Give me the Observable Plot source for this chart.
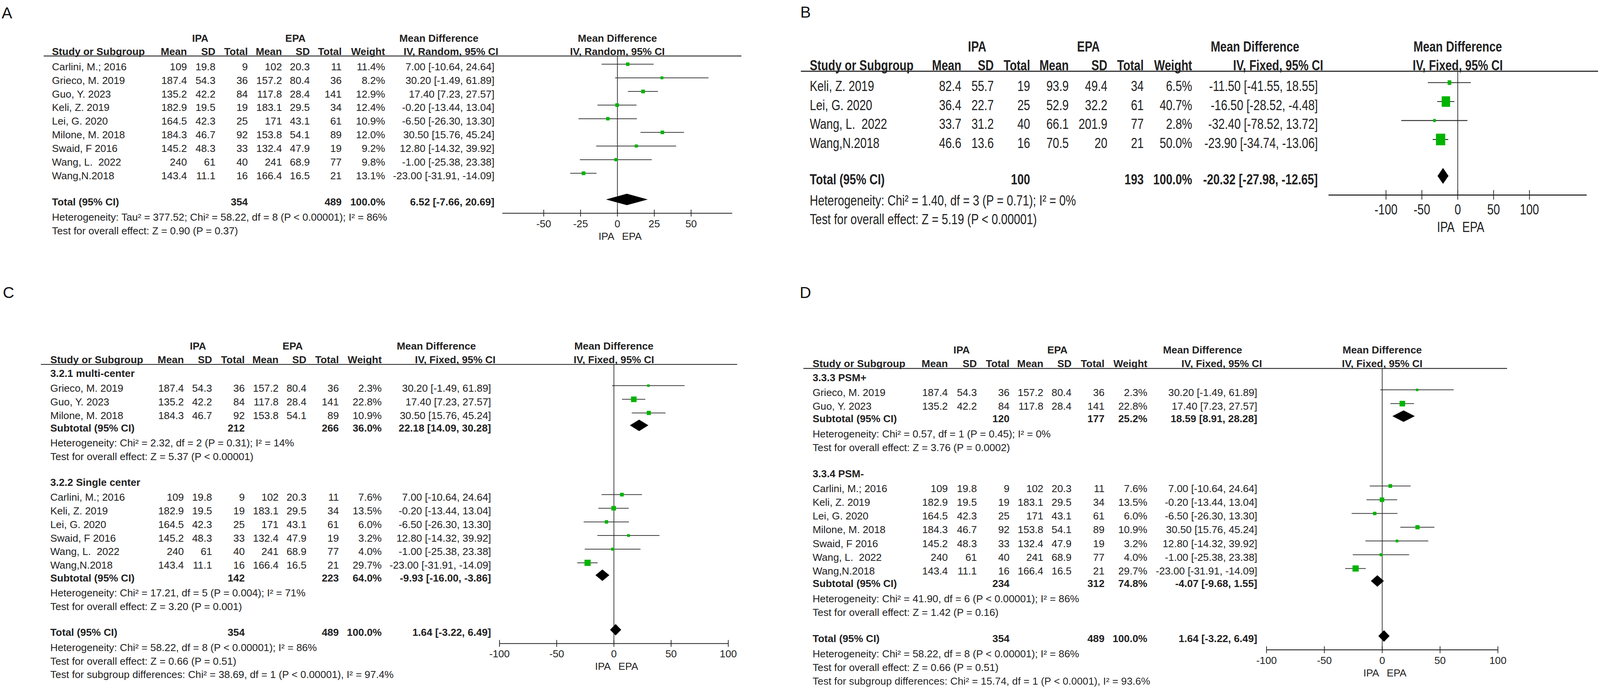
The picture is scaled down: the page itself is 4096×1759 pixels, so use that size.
<!DOCTYPE html>
<html><head><meta charset="utf-8">
<script src="https://cdn.jsdelivr.net/npm/d3@7"></script>
<script src="https://cdn.jsdelivr.net/npm/@observablehq/plot@0.6"></script>
<style>
html,body{margin:0;padding:0;background:#fff;overflow:hidden;}
#page{position:absolute;left:0;top:0;width:5678px;height:2438px;transform:scale(0.7214);transform-origin:0 0;background:#fff;}
.panel{position:absolute;}
.letter{position:absolute;font-family:'Liberation Sans',Arial,sans-serif;font-size:56px;line-height:56px;color:#111;}
</style></head>
<body><div id="page"></div>
<script>
// ---------- data (panels A, C, D share the same nine studies) ----------
const studyNames = ["Carlini, M.; 2016","Grieco, M. 2019","Guo, Y. 2023","Keli, Z. 2019","Lei, G. 2020","Milone, M. 2018","Swaid, F 2016","Wang, L.  2022","Wang,N.2018"];
const ipaMean  = [109,187.4,135.2,182.9,164.5,184.3,145.2,240,143.4];
const ipaSD    = [19.8,54.3,42.2,19.5,42.3,46.7,48.3,61,11.1];
const ipaTotal = [9,36,84,19,25,92,33,40,16];
const epaMean  = [102,157.2,117.8,183.1,171,153.8,132.4,241,166.4];
const epaSD    = [20.3,80.4,28.4,29.5,43.1,54.1,47.9,68.9,16.5];
const epaTotal = [11,36,141,34,61,89,19,77,21];
const meanDiff = [7.00,30.20,17.40,-0.20,-6.50,30.50,12.80,-1.00,-23.00];
const ciLow    = [-10.64,-1.49,7.23,-13.44,-26.30,15.76,-14.32,-25.38,-31.91];
const ciHigh   = [24.64,61.89,27.57,13.04,13.30,45.24,39.92,23.38,-14.09];
const weightRandom = [11.4,8.2,12.9,12.4,10.9,12.0,9.2,9.8,13.1];
const weightFixed  = [7.6,2.3,22.8,13.5,6.0,10.9,3.2,4.0,29.7];

// panel B (separate outcome)
const bNames    = ["Keli, Z. 2019","Lei, G. 2020","Wang, L.  2022","Wang,N.2018"];
const bIpaMean  = [82.4,36.4,33.7,46.6];
const bIpaSD    = [55.7,22.7,31.2,13.6];
const bIpaTotal = [19,25,40,16];
const bEpaMean  = [93.9,52.9,66.1,70.5];
const bEpaSD    = [49.4,32.2,201.9,20];
const bEpaTotal = [34,61,77,21];
const bWeight   = [6.5,40.7,2.8,50.0];
const bMeanDiff = [-11.50,-16.50,-32.40,-23.90];
const bLow      = [-41.55,-28.52,-78.52,-34.74];
const bHigh     = [18.55,-4.48,13.72,-13.06];

// pooled estimates
const pooledA  = {n1:354, n2:489, w:100.0, md:6.52,  lo:-7.66,  hi:20.69};
const pooledB  = {n1:100, n2:193, w:100.0, md:-20.32, lo:-27.98, hi:-12.65};
const pooledAll= {n1:354, n2:489, w:100.0, md:1.64,  lo:-3.22,  hi:6.49};
const pooledC1 = {n1:212, n2:266, w:36.0,  md:22.18, lo:14.09,  hi:30.28};
const pooledC2 = {n1:142, n2:223, w:64.0,  md:-9.93, lo:-16.00, hi:-3.86};
const pooledD1 = {n1:120, n2:177, w:25.2,  md:18.59, lo:8.91,   hi:28.28};
const pooledD2 = {n1:234, n2:312, w:74.8,  md:-4.07, lo:-9.68,  hi:1.55};

const groupC1 = [1,2,5], groupC2 = [0,3,4,6,7,8];
const groupD1 = [1,2],   groupD2 = [0,3,4,5,6,7,8];

const linesA = ["Heterogeneity: Tau² = 377.52; Chi² = 58.22, df = 8 (P < 0.00001); I² = 86%","Test for overall effect: Z = 0.90 (P = 0.37)"];
const linesB = ["Heterogeneity: Chi² = 1.40, df = 3 (P = 0.71); I² = 0%","Test for overall effect: Z = 5.19 (P < 0.00001)"];
const linesC1 = ["Heterogeneity: Chi² = 2.32, df = 2 (P = 0.31); I² = 14%","Test for overall effect: Z = 5.37 (P < 0.00001)"];
const linesC2 = ["Heterogeneity: Chi² = 17.21, df = 5 (P = 0.004); I² = 71%","Test for overall effect: Z = 3.20 (P = 0.001)"];
const linesCT = ["Heterogeneity: Chi² = 58.22, df = 8 (P < 0.00001); I² = 86%","Test for overall effect: Z = 0.66 (P = 0.51)","Test for subgroup differences: Chi² = 38.69, df = 1 (P < 0.00001), I² = 97.4%"];
const linesD1 = ["Heterogeneity: Chi² = 0.57, df = 1 (P = 0.45); I² = 0%","Test for overall effect: Z = 3.76 (P = 0.0002)"];
const linesD2 = ["Heterogeneity: Chi² = 41.90, df = 6 (P < 0.00001); I² = 86%","Test for overall effect: Z = 1.42 (P = 0.16)"];
const linesDT = ["Heterogeneity: Chi² = 58.22, df = 8 (P < 0.00001); I² = 86%","Test for overall effect: Z = 0.66 (P = 0.51)","Test for subgroup differences: Chi² = 15.74, df = 1 (P < 0.0001), I² = 93.6%"];

const ticksA = [-50,-25,0,25,50];
const ticksBCD = [-100,-50,0,50,100];

// ---------- helpers ----------
const FONT = "'Liberation Sans', Arial, Helvetica, sans-serif";
const INK = "#222";
const GREEN = "#00b400";
const fmtCI = (md, lo, hi) => `${md.toFixed(2)} [${lo.toFixed(2)}, ${hi.toFixed(2)}]`;
const fmtW = w => w.toFixed(1) + "%";

const mainStudies = (idx, weights) => idx.map(k => ({name: studyNames[k], m1: ipaMean[k], s1: ipaSD[k], n1: ipaTotal[k], m2: epaMean[k], s2: epaSD[k], n2: epaTotal[k], md: meanDiff[k], lo: ciLow[k], hi: ciHigh[k], w: weights[k]}));
const bStudies = bNames.map((n, k) => ({name: n, m1: bIpaMean[k], s1: bIpaSD[k], n1: bIpaTotal[k], m2: bEpaMean[k], s2: bEpaSD[k], n2: bEpaTotal[k], md: bMeanDiff[k], lo: bLow[k], hi: bHigh[k], w: bWeight[k]}));
const all9 = d3.range(9);

function makePanel(cfg) {
  const T = [], S = [], P = [];
  const sub = cfg.groups.some(g => g.title);
  let headerSlot, colSlot, groupSlot, s;
  const addStudy = (st, slot) => {
    T.push({slot, col: "study", text: st.name, bold: false});
    for (const k of ["m1","s1","n1","m2","s2","n2"]) T.push({slot, col: k, text: String(st[k]), bold: false});
    T.push({slot, col: "w", text: fmtW(st.w), bold: false});
    T.push({slot, col: "ci", text: fmtCI(st.md, st.lo, st.hi), bold: false});
    S.push({slot: slot - 0.2, md: st.md, lo: st.lo, hi: st.hi, w: st.w});
  };
  const addPooled = (p, slot, label) => {
    T.push({slot, col: "study", text: label, bold: true});
    T.push({slot, col: "n1", text: String(p.n1), bold: true});
    T.push({slot, col: "n2", text: String(p.n2), bold: true});
    T.push({slot, col: "w", text: fmtW(p.w), bold: true});
    T.push({slot, col: "ci", text: fmtCI(p.md, p.lo, p.hi), bold: true});
    const c = slot - 0.2, h = 0.42, g = label + slot;
    P.push({g, x: p.lo, y1: c, y2: c}, {g, x: p.md, y1: c - h, y2: c + h}, {g, x: p.hi, y1: c, y2: c});
  };
  if (sub) {
    const first = -1.07;
    headerSlot = first - 0.69; colSlot = first - 1.02; groupSlot = first - 2.01;
    s = first;
    cfg.groups.forEach((g, gi) => {
      if (gi > 0) s += 1.9;
      T.push({slot: s, col: "study", text: g.title, bold: true});
      const r0 = s + 1.07;
      g.studies.forEach((st, j) => addStudy(st, r0 + j));
      const subSlot = r0 + g.studies.length - 1 + 0.92;
      addPooled(g.pooled, subSlot, "Subtotal (95% CI)");
      g.lines.forEach((line, i) => T.push({slot: subSlot + 1.1 + i, col: "study", text: line, bold: false}));
      s = subSlot + 1.1 + g.lines.length - 1;
    });
    s += 1.9;
  } else {
    headerSlot = -0.8; colSlot = -1.1; groupSlot = -2.07;
    const g = cfg.groups[0];
    g.studies.forEach((st, j) => addStudy(st, j));
    s = g.studies.length - 1 + 1.93;
  }
  const totalSlot = s;
  addPooled(cfg.total, totalSlot, "Total (95% CI)");
  cfg.totalLines.forEach((line, i) => T.push({slot: totalSlot + 1.1 + i, col: "study", text: line, bold: false}));
  const axisSlot = totalSlot + 0.8;

  T.push({slot: groupSlot, col: "g1", text: "IPA", bold: true});
  T.push({slot: groupSlot, col: "g2", text: "EPA", bold: true});
  T.push({slot: groupSlot, col: "gMD", text: "Mean Difference", bold: true});
  const heads = {study: "Study or Subgroup", m1: "Mean", s1: "SD", n1: "Total", m2: "Mean", s2: "SD", n2: "Total", w: "Weight", ciHead: cfg.method};
  for (const [k, v] of Object.entries(heads)) T.push({slot: colSlot, col: k, text: v, bold: true});

  const fs = cfg.fs;
  const marks = [];
  marks.push(Plot.ruleY([headerSlot], {y: d => d, insetLeft: cfg.lineL, insetRight: cfg.lineR, stroke: INK, strokeWidth: 3}));
  marks.push(Plot.ruleX([0], {x: d => d, y1: headerSlot, y2: axisSlot, stroke: INK, strokeWidth: 2.4}));
  marks.push(Plot.ruleY([axisSlot], {y: d => d, x1: cfg.axis[0], x2: cfg.axis[1], stroke: INK, strokeWidth: 3}));
  marks.push(Plot.ruleX(cfg.ticks, {x: d => d, y1: axisSlot - 0.25, y2: axisSlot + 0.25, stroke: INK, strokeWidth: 2.6}));
  marks.push(Plot.ruleY(S, {y: "slot", x1: "lo", x2: "hi", stroke: INK, strokeWidth: 2.4}));
  marks.push(Plot.dot(S, {x: "md", y: "slot", r: "w", symbol: "square", fill: GREEN}));
  marks.push(Plot.areaY(P, {x: "x", y1: "y1", y2: "y2", z: "g", fill: "#000", curve: "linear"}));

  for (const [key, [dx, anchor]] of Object.entries(cfg.cols)) {
    for (const bold of [false, true]) {
      const data = T.filter(t => t.col === key && t.bold === bold);
      if (!data.length) continue;
      marks.push(Plot.text(data, {y: "slot", text: "text", frameAnchor: "left", dx, textAnchor: anchor, fontWeight: bold ? "bold" : "normal", fill: INK, fontSize: fs}));
    }
  }
  marks.push(Plot.text([{slot: groupSlot, t: "Mean Difference"}, {slot: colSlot, t: cfg.method}], {x: () => 0, y: "slot", text: "t", fontWeight: "bold", fill: INK, fontSize: fs}));
  marks.push(Plot.text(cfg.ticks, {x: d => d, y: () => axisSlot + 0.78, text: d => String(d), fill: INK, fontSize: fs}));
  marks.push(Plot.text(["IPA"], {x: () => 0, y: () => axisSlot + 1.7, text: d => d, textAnchor: "end", dx: -11, fill: INK, fontSize: fs}));
  marks.push(Plot.text(["EPA"], {x: () => 0, y: () => axisSlot + 1.7, text: d => d, textAnchor: "start", dx: 16, fill: INK, fontSize: fs}));

  const svg = Plot.plot({
    width: cfg.width, height: cfg.height,
    marginTop: 0, marginBottom: 0, marginLeft: 0, marginRight: 0,
    style: {fontFamily: FONT, fontSize: fs + "px", background: "white", overflow: "visible"},
    x: {type: "linear", domain: cfg.axis, range: [cfg.zero + cfg.axis[0] * cfg.ppu, cfg.zero + cfg.axis[1] * cfg.ppu], axis: null},
    y: {type: "linear", domain: [0, 1], range: [cfg.y0, cfg.y0 + cfg.step], axis: null},
    r: {type: "sqrt", domain: [0, 100], range: cfg.r},
    marks
  });
  svg.style.fontFamily = FONT;
  svg.style.whiteSpace = "pre";
  svg.style.maxWidth = "none";
  svg.style.width = cfg.width + "px";
  svg.style.height = (cfg.height * cfg.stretch) + "px";
  svg.setAttribute("preserveAspectRatio", "none");
  const div = document.createElement("div");
  div.className = "panel";
  div.style.left = cfg.left + "px";
  div.style.top = cfg.top + "px";
  div.appendChild(svg);
  document.getElementById("page").appendChild(div);
}

// ---------- panels ----------
makePanel({
  left: 0, top: 0, width: 2700, height: 880, stretch: 1, fs: 36.4, y0: 237, step: 48.4,
  zero: 2190.5, ppu: 5.23, axis: [-78, 78], ticks: ticksA, lineL: 155, lineR: 69,
  cols: {study:[184,"start"], m1:[663,"end"], s1:[764,"end"], n1:[879,"end"], m2:[1000,"end"], s2:[1099,"end"], n2:[1212,"end"], w:[1366,"end"], ci:[1754,"end"], ciHead:[1768,"end"], g1:[710,"middle"], g2:[1048,"middle"], gMD:[1557,"middle"]},
  method: "IV, Random, 95% CI", r: [0, 20.6],
  groups: [{title: null, studies: mainStudies(all9, weightRandom)}],
  total: pooledA, totalLines: linesA
});
makePanel({
  left: 2840, top: 0, width: 2838, height: 704, stretch: 1.25, fs: 40.7, y0: 244.8, step: 53.84,
  zero: 2332.5, ppu: 2.545, axis: [-180, 180], ticks: ticksBCD, lineL: 2, lineR: 7,
  cols: {study:[33,"start"], m1:[571,"end"], s1:[686,"end"], n1:[815,"end"], m2:[952,"end"], s2:[1089,"end"], n2:[1218,"end"], w:[1390,"end"], ci:[1836,"end"], ciHead:[1855,"end"], g1:[627,"middle"], g2:[1022,"middle"], gMD:[1613,"middle"]},
  method: "IV, Fixed, 95% CI", r: [0.97, 25.9],
  groups: [{title: null, studies: bStudies}],
  total: pooledB, totalLines: linesB
});
makePanel({
  left: 0, top: 1000, width: 2700, height: 1438, stretch: 1, fs: 36.4, y0: 378, step: 48.4,
  zero: 2178, ppu: 4.06, axis: [-100, 100], ticks: ticksBCD, lineL: 145, lineR: 84,
  cols: {study:[178,"start"], m1:[652,"end"], s1:[752,"end"], n1:[868,"end"], m2:[988,"end"], s2:[1087,"end"], n2:[1202,"end"], w:[1354,"end"], ci:[1742,"end"], ciHead:[1758,"end"], g1:[702,"middle"], g2:[1038,"middle"], gMD:[1548,"middle"]},
  method: "IV, Fixed, 95% CI", r: [2.26, 20.9],
  groups: [
    {title: "3.2.1 multi-center", studies: mainStudies(groupC1, weightFixed), pooled: pooledC1, lines: linesC1},
    {title: "3.2.2 Single center", studies: mainStudies(groupC2, weightFixed), pooled: pooledC2, lines: linesC2}
  ],
  total: pooledAll, totalLines: linesCT
});
makePanel({
  left: 2840, top: 1000, width: 2838, height: 1438, stretch: 1, fs: 36.4, y0: 393, step: 48.8,
  zero: 2064.5, ppu: 4.105, axis: [-100, 100], ticks: ticksBCD, lineL: 11, lineR: 330,
  cols: {study:[43,"start"], m1:[523,"end"], s1:[626,"end"], n1:[742,"end"], m2:[862,"end"], s2:[962,"end"], n2:[1079,"end"], w:[1231,"end"], ci:[1621,"end"], ciHead:[1638,"end"], g1:[572,"middle"], g2:[912,"middle"], gMD:[1427,"middle"]},
  method: "IV, Fixed, 95% CI", r: [2.26, 20.9],
  groups: [
    {title: "3.3.3 PSM+", studies: mainStudies(groupD1, weightFixed), pooled: pooledD1, lines: linesD1},
    {title: "3.3.4 PSM-", studies: mainStudies(groupD2, weightFixed), pooled: pooledD2, lines: linesD2}
  ],
  total: pooledAll, totalLines: linesDT
});

// panel letters
for (const [t, l, tp] of [["A", 6, 18], ["B", 2840, 15], ["C", 10, 1011], ["D", 2838, 1011]]) {
  const d = document.createElement("div");
  d.className = "letter"; d.textContent = t;
  d.style.left = l + "px"; d.style.top = tp + "px";
  document.getElementById("page").appendChild(d);
}
</script></body></html>
